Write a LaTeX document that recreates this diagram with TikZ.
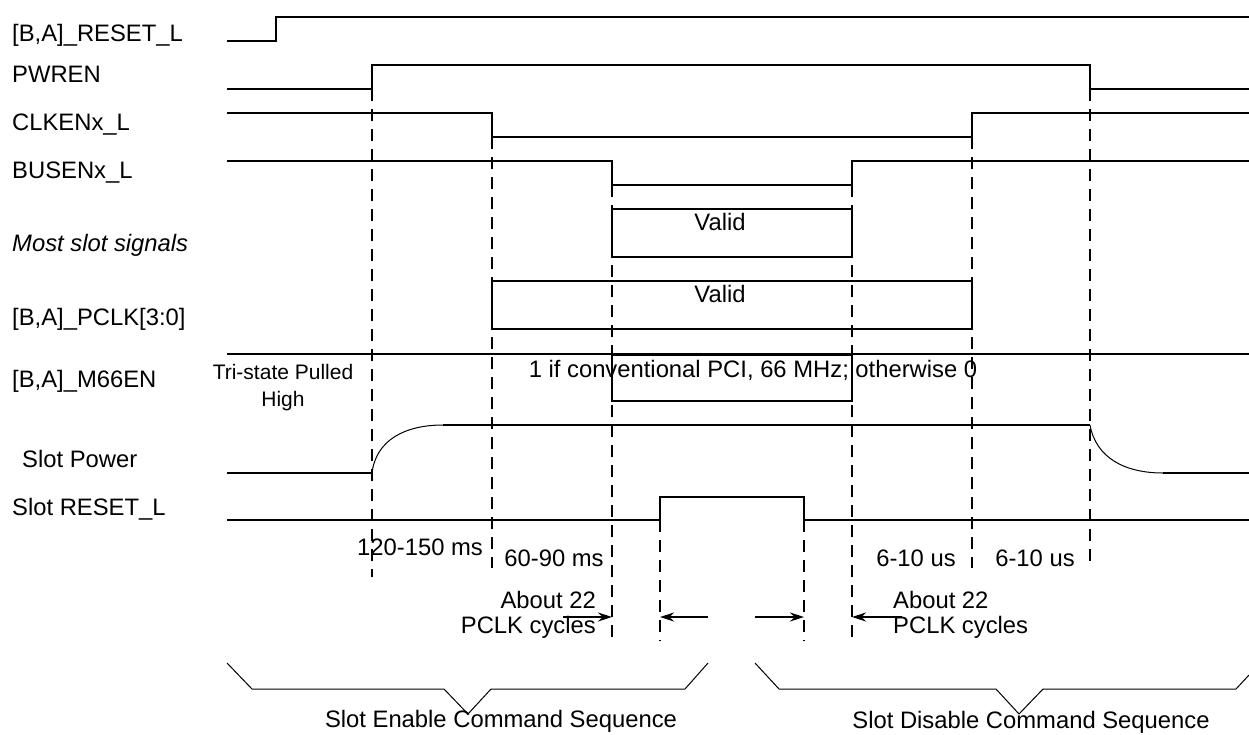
\documentclass[tikz,border=0pt]{standalone}
\usepackage{fontspec}
\setmainfont{Liberation Sans}
\usetikzlibrary{arrows.meta}
\begin{document}
\begin{tikzpicture}[x=1pt,y=-1pt,
  sig/.style={line width=1.6pt, line join=miter},
  thinline/.style={line width=1pt},
  guide/.style={line width=1.6pt, dash pattern=on 12pt off 8pt},
  lbl/.style={anchor=base west, inner sep=0pt, font=\fontsize{23.8}{28}\selectfont},
  txt/.style={inner sep=0pt, font=\fontsize{23.8}{25}\selectfont},
  arr/.style={line width=1.6pt, -{Stealth[length=14pt,width=9pt]}}
]
\fill[white] (0,0) rectangle (1249,734);
\useasboundingbox (0,0) rectangle (1249,734);

% signal names
\node[lbl] (l1) at (12,41) {[B,A]\_RESET\_L};
\node[lbl] (l2) at (12,82) {PWREN};
\node[lbl] (l3) at (12,130) {CLKENx\_L};
\node[lbl] (l4) at (12,178) {BUSENx\_L};
\node[lbl,font=\fontsize{23.8}{28}\selectfont\itshape] (l5) at (12,251) {Most slot signals};
\node[lbl] (l6) at (12,325) {[B,A]\_PCLK[3:0]};
\node[lbl] (l7) at (12,387) {[B,A]\_M66EN};
\node[lbl] (l8) at (22,467) {Slot Power};
\node[lbl] (l9) at (12,515) {Slot RESET\_L};

% dashed guides
\draw[guide] (372,89) -- (372,577);
\draw[guide] (492,137) -- (492,568);
\draw[guide] (612,185) -- (612,641);
\draw[guide] (660,520) -- (660,641);
\draw[guide] (804,520) -- (804,641);
\draw[guide] (852,185) -- (852,641);
\draw[guide] (972,137) -- (972,568);
\draw[guide] (1090,89) -- (1090,568);

% waveforms
\draw[sig] (227,41) -- (276,41) -- (276,17) -- (1249,17);
\draw[sig] (227,89) -- (372,89) -- (372,65) -- (1090,65) -- (1090,89) -- (1249,89);
\draw[sig] (227,113) -- (492,113) -- (492,137) -- (972,137) -- (972,113) -- (1249,113);
\draw[sig] (227,161) -- (612,161) -- (612,185) -- (852,185) -- (852,161) -- (1249,161);
\draw[sig] (612,209) rectangle (852,257);
\draw[sig] (492,281) rectangle (972,329);
\draw[sig] (227,354) -- (1249,354);
\draw[sig] (612,354) -- (612,401) -- (852,401) -- (852,354);
\draw[line width=2.6pt] (612,354.5) -- (852,354.5);
\draw[sig] (227,473) -- (372,473);
\draw[thinline] (372,473) .. controls (376,440) and (405,425) .. (443,425);
\draw[sig] (443,425) -- (1090,425);
\draw[thinline] (1090,425) .. controls (1096,458) and (1125,473) .. (1163,473);
\draw[sig] (1163,473) -- (1249,473);
\draw[sig] (227,520) -- (660,520) -- (660,497) -- (804,497) -- (804,520) -- (1249,520);

% texts in the chart
\node[txt,anchor=base] (v1) at (720,230) {Valid};
\node[txt,anchor=base] (v2) at (720,302) {Valid};
\node[txt,anchor=base] (m66) at (753,377) {1 if conventional PCI, 66 MHz; otherwise 0};
\node[inner sep=0pt, font=\fontsize{21}{27}\selectfont, align=center, anchor=base] (tri) at (283,406) {Tri-state Pulled\\High};

\node[txt,anchor=base] (t1) at (420,555) {120-150 ms};
\node[txt,anchor=base] (t2) at (554,566) {60-90 ms};
\node[txt,anchor=base] (t3) at (916,566) {6-10 us};
\node[txt,anchor=base] (t4) at (1035,566) {6-10 us};

\node[txt,align=right,anchor=base east] (a1) at (596,633) {About 22\\PCLK cycles};
\node[txt,align=left,anchor=base west] (a2) at (893,633) {About 22\\PCLK cycles};

% arrows
\coordinate (p1) at (563,617); \coordinate (q1) at (612,617);
\coordinate (p2) at (708,617); \coordinate (q2) at (660,617);
\coordinate (p3) at (755,617); \coordinate (q3) at (804,617);
\coordinate (p4) at (902,617); \coordinate (q4) at (852,617);
\draw[arr] (p1) -- (q1);
\draw[arr] (p2) -- (q2);
\draw[arr] (p3) -- (q3);
\draw[arr] (p4) -- (q4);

% braces
\draw[thinline] (227,663) -- (252,689) -- (444,689) -- (468,714) -- (491,689) -- (685,689) -- (708,663);
\draw[thinline] (755,663) -- (779,689) -- (996,689) -- (1019,714) -- (1043,689) -- (1236,689) -- (1249,675);

\node[txt,anchor=base] (se) at (501,727) {Slot Enable Command Sequence};
\node[txt,anchor=base] (sd) at (1031,728) {Slot Disable Command Sequence};
\end{tikzpicture}
\end{document}
